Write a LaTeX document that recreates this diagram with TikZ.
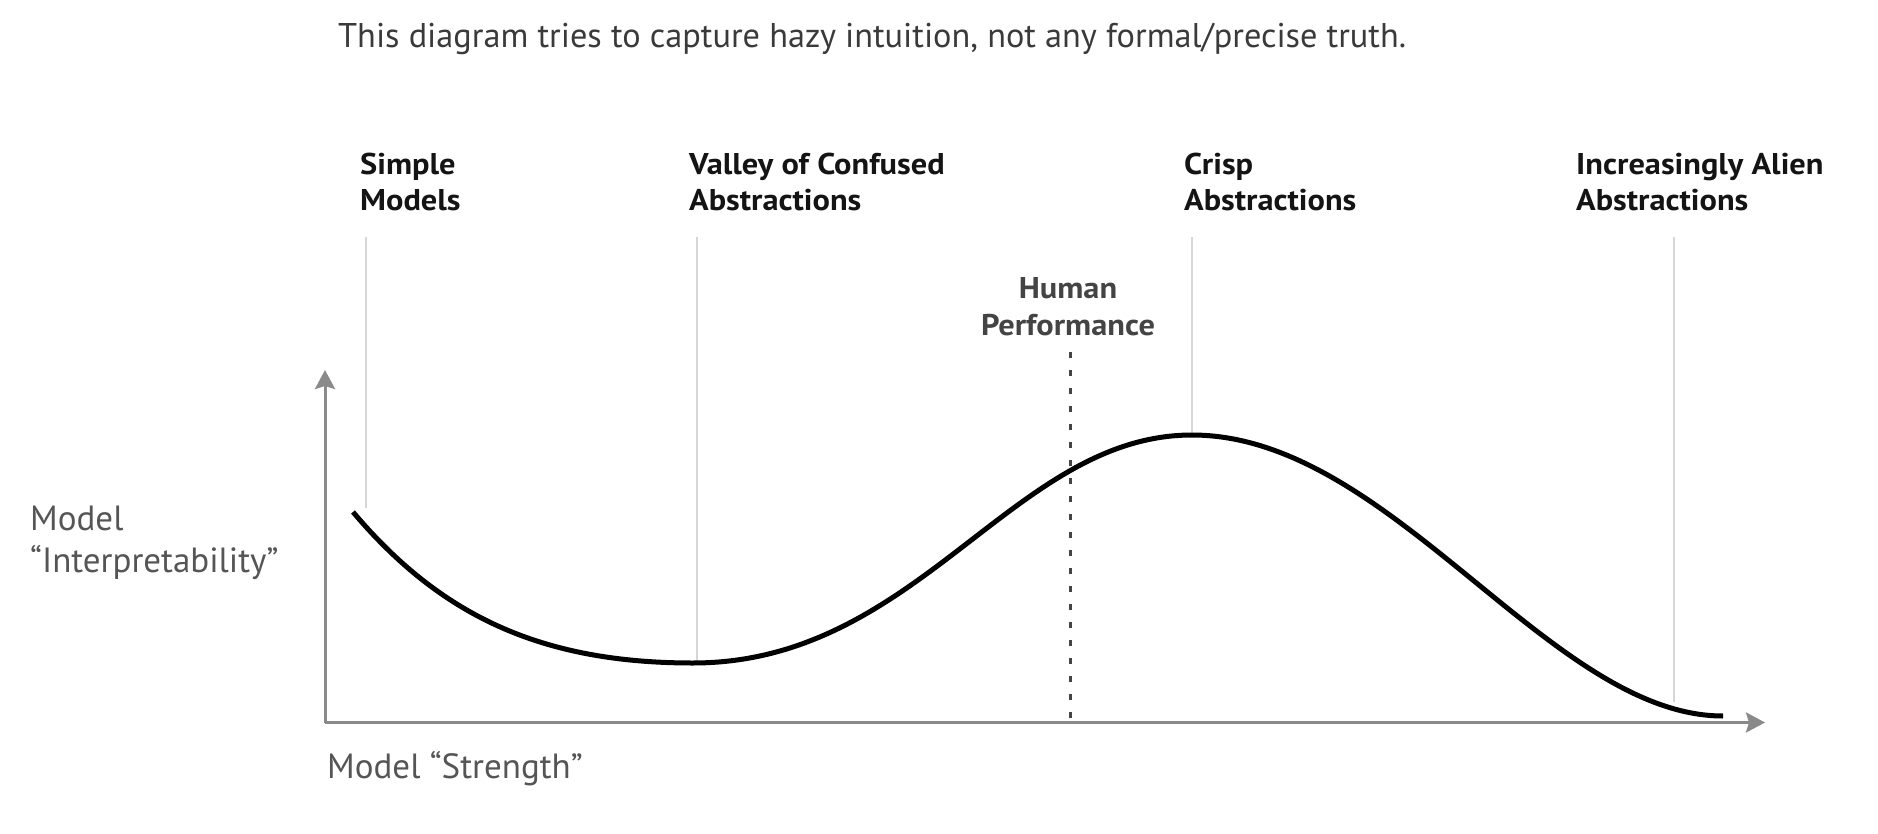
\documentclass[tikz,border=0pt]{standalone}
\usepackage{fontspec}
\setmainfont{PT Sans}
\newfontfamily\stagefont{PT Sans Bold}[FakeStretch=1.08]
\usetikzlibrary{arrows.meta}
\definecolor{axisgray}{HTML}{8A8A8A}
\definecolor{guidegray}{HTML}{D6D6D6}
\definecolor{humangray}{HTML}{444444}
\definecolor{textgray}{HTML}{3A3A3A}
\definecolor{labelgray}{HTML}{555555}
\tikzset{
  axis/.style={line width=3pt, color=axisgray, -{Stealth[length=19pt, width=20pt, inset=3pt]}},
  guide/.style={line width=2pt, color=guidegray},
  humanline/.style={line width=3pt, color=humangray, dash pattern=on 6pt off 12pt},
  curve/.style={line width=5pt, color=black},
  stage/.style={font=\stagefont\fontsize{30}{36}\selectfont, color=black!92, align=left, anchor=base west, inner sep=0pt},
  axislabel/.style={font=\fontsize{35}{42}\selectfont, color=labelgray, align=left, inner sep=0pt, anchor=base west}
}
\begin{document}
\begin{tikzpicture}[x=1pt, y=-1pt]
        \useasboundingbox (0,0) rectangle (1878,834);
        \node[font=\fontsize{34.3}{40}\selectfont, color=textgray, inner sep=0pt, anchor=base west] (title) at (338,48) {This diagram tries to capture hazy intuition, not any formal/precise truth.};
        % stages along the strength axis (base = last line)
        \node[stage] (simple) at (360,211) {Simple\\Models};
        \node[stage] (valley) at (689,211) {Valley of Confused\\Abstractions};
        \node[stage] (crisp) at (1184,211) {Crisp\\Abstractions};
        \node[stage] (alien) at (1576,211) {Increasingly Alien\\Abstractions};
        \node[stage, font=\stagefont\fontsize{30}{37}\selectfont, color=humangray, align=center, anchor=base] (human) at (1068,335) {Human\\Performance};
        \draw[guide] (366,237) coordinate (simpletop) -- (366,508) coordinate (simplebot);
        \draw[guide] (697,237) coordinate (valleytop) -- (697,665) coordinate (valleybot);
        \draw[guide] (1192,237) coordinate (crisptop) -- (1192,435) coordinate (crispbot);
        \draw[guide] (1674,237) coordinate (alientop) -- (1674,702) coordinate (alienbot);
        % axes
        \coordinate (O) at (325,722.5);
        \coordinate (ytip) at (325,370);
        \coordinate (xtip) at (1765,722.5);
        \draw[humanline] (1070,352) coordinate (humantop) -- (1070,722) coordinate (humanbot);
        \draw[axis] (O) -- (ytip);
        \draw[axis] (O) -- (xtip);
        \node[axislabel] (ylabel) at (30,572) {Model\\“Interpretability”};
        \node[axislabel] (xlabel) at (327,778) {Model “Strength”};
        % the curve
        \coordinate (start) at (353,512);
        \coordinate (low) at (693,663);
        \coordinate (peak) at (1192,435);
        \coordinate (tail) at (1723,716);
        \draw[curve] (start) .. controls (440,615) and (540,663) .. (low)
            .. controls (918,663) and (1013,435) .. (peak)
            .. controls (1391,435) and (1550,716) .. (tail);
    \end{tikzpicture}
\end{document}
